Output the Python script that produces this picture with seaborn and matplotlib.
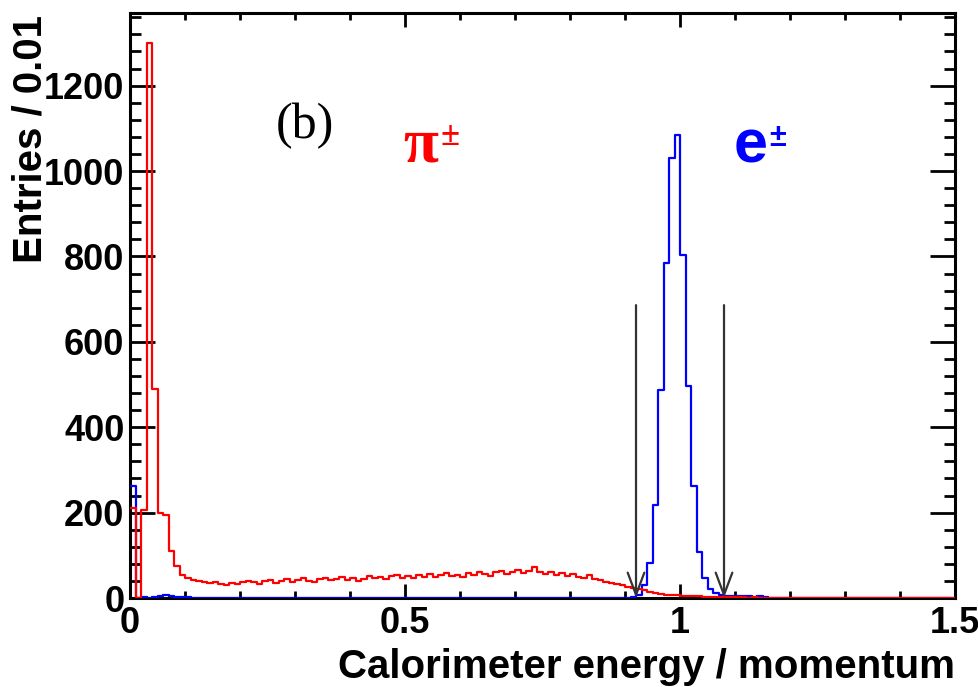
import numpy as np
import pandas as pd
import matplotlib
matplotlib.use('Agg')
import matplotlib.pyplot as plt
import seaborn as sns

# E/p histograms, 150 bins of width 0.01 between 0 and 1.5
red_counts = [
    212, 0, 205, 1300, 490, 198, 195, 110, 75, 55,
    47, 42, 40, 38, 35, 37, 33, 31, 36, 34,
    37, 41, 38, 33, 39, 43, 36, 40, 44, 38,
    42, 46, 40, 37, 44, 48, 42, 45, 50, 43,
    47, 41, 45, 52, 46, 49, 44, 51, 55, 48,
    52, 46, 54, 50, 57, 49, 53, 58, 52, 55,
    50, 59, 54, 61, 56, 52, 60, 63, 57, 62,
    66, 58, 63, 72, 60, 56, 61, 55, 58, 52,
    56, 50, 47, 53, 45, 42, 38, 35, 33, 30,
    27, 24, 21, 18, 15, 12, 10, 8, 7, 6,
    5, 5, 4, 4, 3, 3, 3, 2, 2, 2,
    2, 2, 1, 2, 1, 1, 1, 1, 1, 1,
    1, 0, 1, 1, 0, 1, 0, 0, 1, 0,
    0, 1, 0, 0, 0, 1, 0, 0, 0, 0,
    0, 0, 0, 0, 0, 0, 0, 0, 0, 0,
]
blue_counts = [
    262, 0, 2, 1, 3, 5, 6, 4, 3, 2,
    2, 1, 1, 1, 0, 1, 0, 1, 0, 0,
    0, 0, 0, 0, 0, 0, 0, 0, 0, 0,
    0, 0, 0, 0, 0, 0, 0, 0, 0, 0,
    0, 0, 0, 0, 0, 0, 0, 0, 0, 0,
    0, 0, 0, 0, 0, 0, 0, 0, 0, 0,
    0, 0, 0, 0, 0, 0, 0, 0, 0, 0,
    0, 0, 0, 0, 0, 0, 0, 0, 0, 0,
    0, 0, 0, 0, 0, 0, 0, 0, 0, 0,
    1, 2, 8, 30, 83, 217, 488, 785, 1030, 1085,
    804, 497, 262, 108, 47, 22, 11, 6, 4, 5,
    5, 4, 5, 3, 4, 2, 1, 1, 0, 1,
    0, 0, 0, 0, 0, 0, 0, 0, 0, 0,
    0, 0, 0, 0, 0, 0, 0, 0, 0, 0,
    0, 0, 0, 0, 0, 0, 0, 0, 0, 0,
]
cut_values = [0.92, 1.08]
arrow_top = 686

x_min, x_max, bin_w = 0.0, 1.5, 0.01
centers = x_min + bin_w * (np.arange(len(red_counts)) + 0.5)
df = pd.DataFrame({'ep': centers, 'pion': red_counts, 'electron': blue_counts})

sns.set_style('ticks')
plt.rcParams['font.family'] = ['Liberation Sans', 'DejaVu Sans']
plt.rcParams['font.weight'] = 'bold'
plt.rcParams['text.color'] = 'black'
plt.rcParams['axes.labelcolor'] = 'black'
plt.rcParams['xtick.color'] = 'black'
plt.rcParams['ytick.color'] = 'black'

fig = plt.figure(figsize=(9.79, 6.87), dpi=100)
ax = fig.add_axes([0.1328, 0.1295, 0.8427, 0.8515])

sns.histplot(data=df, x='ep', weights='electron', binwidth=bin_w, binrange=(x_min, x_max),
             element='step', fill=False, color='#0000ff', linewidth=1.6, ax=ax, zorder=3)
sns.histplot(data=df, x='ep', weights='pion', binwidth=bin_w, binrange=(x_min, x_max),
             element='step', fill=False, color='#ff0000', linewidth=1.6, ax=ax, zorder=4)

for xc in cut_values:
    ax.annotate('', xy=(xc, 0), xytext=(xc, arrow_top),
                arrowprops=dict(arrowstyle='->, head_length=1.6, head_width=0.6',
                                color='#333333', lw=1.6, shrinkA=0, shrinkB=0,
                                mutation_scale=10), zorder=5)

ax.set_xlim(x_min, x_max)
ax.set_ylim(0, 1370)
ax.set_xticks([0, 0.5, 1, 1.5])
ax.set_xticklabels(['0', '0.5', '1', '1.5'])
ax.set_xticks(np.arange(0, 1.51, 0.1), minor=True)
ax.set_yticks(np.arange(0, 1201, 200))
ax.set_yticks(np.arange(0, 1361, 40), minor=True)

for s in ax.spines.values():
    s.set_linewidth(2.2)
    s.set_color('black')
    s.set_visible(True)
ax.tick_params(which='both', direction='in', top=True, right=True, width=2.0,
               labelsize=26, colors='black')
ax.tick_params(axis='y', which='major', length=18, pad=4)
ax.tick_params(axis='y', which='minor', length=8)
ax.tick_params(axis='x', which='major', length=10, pad=6)
ax.tick_params(axis='x', which='minor', length=5)

ax.set_xlabel('Calorimeter energy / momentum', fontsize=29, fontweight='bold', ha='right')
ax.xaxis.set_label_coords(1.0, -0.085)
ax.set_ylabel('Entries / 0.01', fontsize=29, fontweight='bold', ha='right')
ax.yaxis.set_label_coords(-0.097, 0.997)

ax.text(0.318, 1105, '(b)', fontsize=36, family='Liberation Serif', fontweight='normal',
        ha='center', va='center')
ax.text(0.496, 1022, 'π', fontsize=46, family='Liberation Serif', fontweight='bold',
        color='#ff0000', ha='left', va='baseline')
ax.text(0.564, 1062, '±', fontsize=25, family='Liberation Serif', color='#ff0000',
        ha='left', va='baseline')
ax.text(1.098, 1020, 'e', fontsize=44, fontweight='bold', color='#0000ff',
        ha='left', va='baseline')
ax.text(1.163, 1058, '±', fontsize=22, fontweight='bold', color='#0000ff',
        ha='left', va='baseline')

fig.savefig('out.png', dpi=100)
